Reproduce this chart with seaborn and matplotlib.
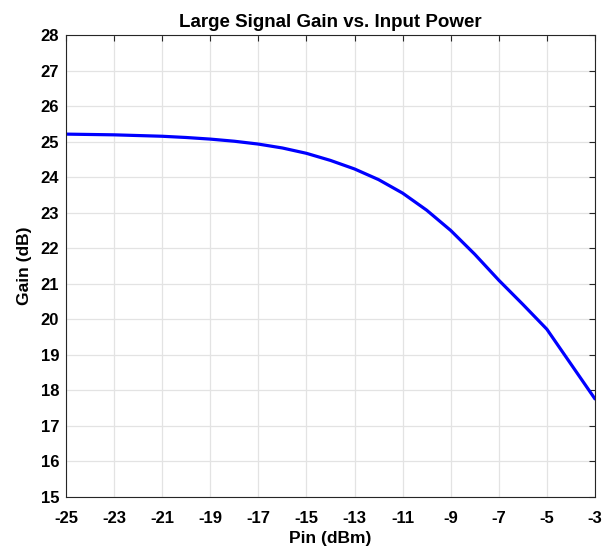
import matplotlib
matplotlib.use("Agg")
import matplotlib.pyplot as plt
import seaborn as sns
import pandas as pd

pin_dbm = [-25, -24, -23, -22, -21, -20, -19, -18, -17, -16, -15, -14, -13, -12, -11, -10,
           -9, -8, -7, -6, -5.5, -5, -4.5, -4, -3.5, -3]
gain_db = [25.21, 25.20, 25.19, 25.17, 25.15, 25.115, 25.07, 25.01, 24.93, 24.82, 24.67, 24.47,
           24.23, 23.93, 23.55, 23.07, 22.50, 21.83, 21.10, 20.42, 20.07, 19.72, 19.23, 18.74,
           18.25, 17.76]
x_ticks = list(range(-25, -2, 2))
y_ticks = list(range(15, 29))

sns.set_theme(style="white")
plt.rcParams['font.family'] = ['Liberation Sans', 'DejaVu Sans']
plt.rcParams['font.weight'] = 'bold'
plt.rcParams['axes.unicode_minus'] = False
plt.rcParams['text.color'] = 'black'
plt.rcParams['axes.labelcolor'] = 'black'

df = pd.DataFrame({"Pin (dBm)": pin_dbm, "Gain (dB)": gain_db})

fig = plt.figure(figsize=(6.14, 5.55), dpi=100)
ax = fig.add_axes([0.1075, 0.1045, 0.8615, 0.8325])
sns.lineplot(data=df, x="Pin (dBm)", y="Gain (dB)", ax=ax, color="#0000ff", linewidth=2.3)

ax.set_xlim(-25, -3)
ax.set_ylim(15, 28)
ax.set_xticks(x_ticks)
ax.set_yticks(y_ticks)
ax.grid(True, color="#e3e3e3", linewidth=0.9)
ax.set_axisbelow(True)
for s in ax.spines.values():
    s.set_color("#262626")
    s.set_linewidth(0.8)
ax.tick_params(direction="in", top=True, right=True, length=4, width=0.8,
               colors="#262626", labelsize=12, labelcolor="black")
ax.tick_params(axis="x", pad=10)
ax.tick_params(axis="y", pad=5)
for lab in ax.get_xticklabels() + ax.get_yticklabels():
    lab.set_fontweight("bold")
ax.set_xlabel("Pin (dBm)", fontsize=12.5, fontweight="bold", labelpad=4, color="black")
ax.set_ylabel("Gain (dB)", fontsize=12.5, fontweight="bold", labelpad=6, color="black")
ax.set_title("Large Signal Gain vs. Input Power", fontsize=13.5, fontweight="bold", pad=6, color="black")

fig.savefig("out.png", dpi=100)
